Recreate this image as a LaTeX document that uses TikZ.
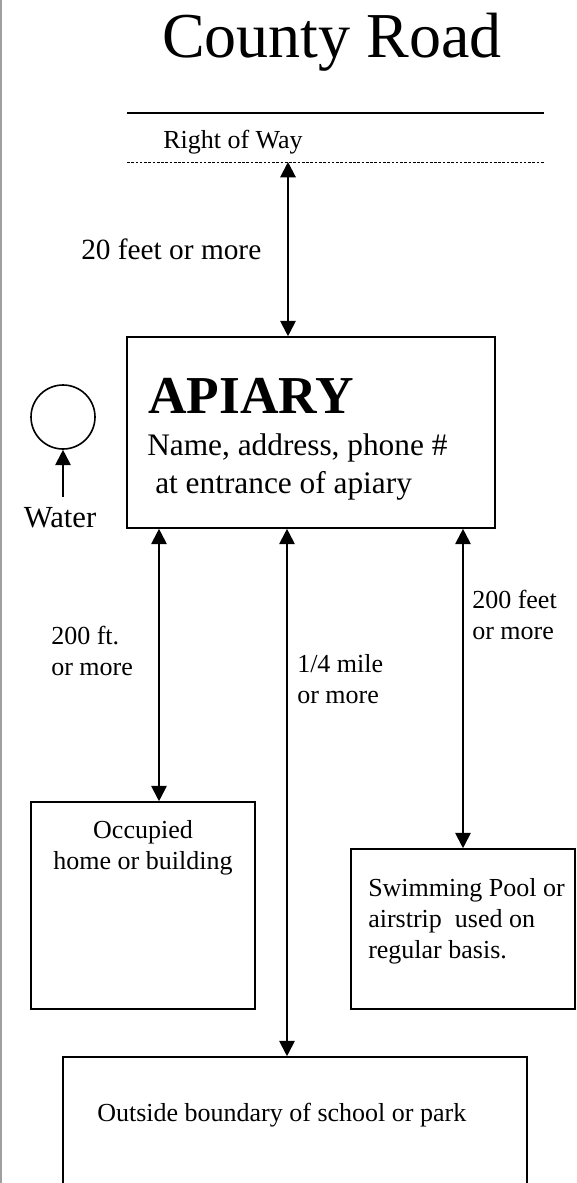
\documentclass[tikz,border=0pt]{standalone}
\usepackage{fontspec}
\setmainfont{Liberation Serif}
\usetikzlibrary{arrows.meta}

\tikzset{
  box/.style={draw, line width=1.2pt, inner sep=0pt},
  dim/.style={{Triangle[length=11.5pt,width=11.5pt]}-{Triangle[length=11.5pt,width=11.5pt]}, line width=1.5pt},
  onearrow/.style={-{Triangle[length=11.5pt,width=11.5pt]}, line width=1.5pt},
  lbl/.style={inner sep=0pt, anchor=base west, align=left, font=\fontsize{19.5pt}{23.25pt}\selectfont},
}

\begin{document}
\begin{tikzpicture}[x=0.75pt,y=-0.75pt]
    % 边界
    \useasboundingbox (0,0) rectangle (577,1183);
    \clip (0,0) rectangle (577,1183);
    \draw[gray!75, line width=1.2pt] (1,0) -- (1,1183);

    % 道路
    \node[inner sep=0pt, anchor=base] (road) at (332,57) {\fontsize{48pt}{56pt}\selectfont County Road};
    \draw[line width=1.5pt] (127,113) -- (544,113);
    \node[lbl] (row) at (163,148) {Right of Way};
    \draw[line width=0.6pt, dash pattern=on 2pt off 1.2pt] (127,162) -- (544,162);
    \coordinate (rowline) at (288,162);

    % 蜂场
    \node[box, minimum width=276pt, minimum height=143.25pt] (apiary) at (311,432.5) {};
    \node[inner sep=0pt, anchor=base west] (title) at (148,413) {\fontsize{40pt}{46pt}\selectfont\bfseries APIARY};
    \node[inner sep=0pt, anchor=base west] (info1) at (147,455) {\fontsize{23.5pt}{28pt}\selectfont Name, address, phone \#};
    \node[inner sep=0pt, anchor=base west] (info2) at (155,493) {\fontsize{23.5pt}{28pt}\selectfont at entrance of apiary};

    % 水源
    \node[draw, circle, line width=1.2pt, minimum size=48pt, inner sep=0pt] (pond) at (63,417) {};
    \node[inner sep=0pt, anchor=base] (water) at (60,527) {\fontsize{23pt}{27pt}\selectfont Water};
    \coordinate (wsrc) at (63,497);
    \draw[onearrow] (wsrc) -- (pond.south);

    % 其他
    \node[box, minimum width=168pt, minimum height=155.25pt] (home) at (143,905.5) {};
    \node[box, minimum width=168pt, minimum height=120pt] (pool) at (463,929) {};
    \node[box, minimum width=348pt, minimum height=150pt] (school) at (295,1157) {};

    \node[lbl, anchor=base, align=center] (hometxt) at (143,869) {Occupied\\home or building};
    \node[lbl] (pooltxt) at (368,958) {Swimming Pool or\\airstrip\ \ used on\\regular basis.};
    \node[lbl] (schooltxt) at (97,1121) {Outside boundary of school or park};

    % 距离
    \draw[dim] (rowline) -- (rowline |- apiary.north);
    \draw[dim] (apiary.south -| 159,0) -- (home.north -| 159,0);
    \draw[dim] (apiary.south -| 287,0) -- (school.north -| 287,0);
    \draw[dim] (apiary.south -| pool.north) -- (pool.north);

    \node[lbl, font=\fontsize{22pt}{26pt}\selectfont] (d1) at (81,259) {20 feet or more};
    \node[lbl] (d2) at (51,675) {200 ft.\\or more};
    \node[lbl] (d3) at (297,703) {1/4 mile\\or more};
    \node[lbl] (d4) at (472,639) {200 feet\\or more};
\end{tikzpicture}
\end{document}
